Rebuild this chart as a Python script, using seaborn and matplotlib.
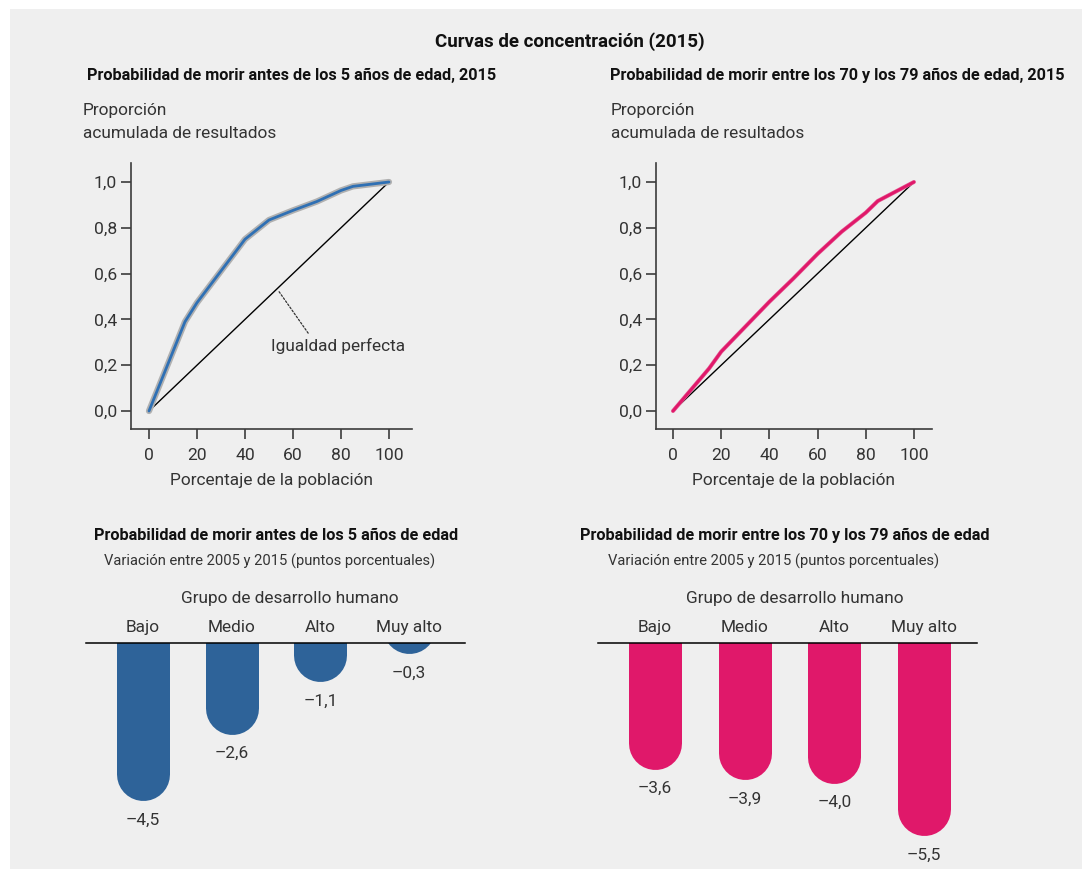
import numpy as np
import pandas as pd
import matplotlib
matplotlib.use("Agg")
import matplotlib.pyplot as plt
import matplotlib.patheffects as pe
from matplotlib.patches import Rectangle
import seaborn as sns

# ---------------- data ----------------
pct_pop = [0, 15, 20, 40, 50, 60, 70, 80, 85, 100]
conc_u5 = [0.0, 0.39, 0.473, 0.75, 0.834, 0.876, 0.915, 0.963, 0.981, 1.0]
conc_70 = [0.0, 0.186, 0.259, 0.477, 0.579, 0.686, 0.783, 0.866, 0.917, 1.0]
diag_x = [0, 100]
diag_y = [0.0, 1.0]

groups = ["Bajo", "Medio", "Alto", "Muy alto"]
chg_u5 = [-4.5, -2.6, -1.1, -0.3]
chg_70 = [-3.6, -3.9, -4.0, -5.5]

x_ticks = [0, 20, 40, 60, 80, 100]
y_ticks = [0.0, 0.2, 0.4, 0.6, 0.8, 1.0]

BLUE_LINE = "#2f70b4"
BLUE_BAR = "#2e6399"
PINK = "#e0186a"
TXT = "#333333"
BG = "#efefef"

sns.set_style("ticks")
plt.rcParams["font.family"] = ["Roboto", "DejaVu Sans"]
plt.rcParams["text.color"] = TXT
plt.rcParams["axes.labelcolor"] = TXT
plt.rcParams["xtick.color"] = "#3c3c3c"
plt.rcParams["ytick.color"] = "#3c3c3c"

W, H = 1086, 869
fig = plt.figure(figsize=(W / 100, H / 100), dpi=100)
fig.patch.set_facecolor("white")
fig.patches.append(Rectangle((10 / W, 0), 1072 / W, 860 / H, transform=fig.transFigure,
                             facecolor=BG, edgecolor="none", zorder=-10))


def fx(px):
    return px / W


def fy(py):
    return 1 - py / H


FS = 12.4      # regular text
FS_B = 11.7    # bold titles
FS_M = 13.5    # main title
FS_S = 10.6    # subtitles
FS_T = 12.6    # tick labels

# ---------------- top concentration curves ----------------
def curve_axes(rect, xlim, yvals, color, halo, halo_w, lw):
    ax = fig.add_axes(rect)
    ax.set_facecolor("none")
    sns.lineplot(x=diag_x, y=diag_y, ax=ax, color="black", lw=1.0)
    sns.lineplot(x=pct_pop, y=yvals, ax=ax, color=color, lw=lw,
                 path_effects=[pe.Stroke(linewidth=halo_w, foreground=halo), pe.Normal()])
    ax.set_xlim(*xlim)
    ax.set_ylim(-0.0786, 1.083)
    ax.set_xticks(x_ticks)
    ax.set_xticklabels([str(v) for v in x_ticks])
    ax.set_yticks(y_ticks)
    ax.set_yticklabels([f"{v:.1f}".replace(".", ",") for v in y_ticks])
    for s in ["top", "right"]:
        ax.spines[s].set_visible(False)
    for s in ["left", "bottom"]:
        ax.spines[s].set_color("#3c3c3c")
        ax.spines[s].set_linewidth(1.2)
    ax.tick_params(axis="both", direction="out", length=7, width=1.2, labelsize=FS_T,
                   labelcolor=TXT)
    ax.tick_params(axis="x", pad=7)
    ax.tick_params(axis="y", pad=3)
    ax.set_xlabel("Porcentaje de la población", fontsize=FS, labelpad=7)
    ax.set_ylabel("")
    return ax


ax1 = curve_axes([fx(131), fy(429), (412 - 131) / W, (429 - 163) / H], (-7.5, 109.6),
                 conc_u5, BLUE_LINE, "#b0b0b0", 4.5, 2.0)
ax2 = curve_axes([fx(656), fy(429), (932 - 656) / W, (429 - 163) / H], (-7.05, 107.5),
                 conc_70, PINK, "#e45a92", 2.9, 2.0)

ax1.annotate("", xy=(53.2, 0.536), xytext=(67, 0.33),
             arrowprops=dict(arrowstyle="-", linestyle=(0, (1.5, 1.5)), lw=0.9, color="#333333"))
ax1.text(51, 0.285, "Igualdad perfecta", fontsize=FS, ha="left", va="center", color=TXT)

# ---------------- bar charts (rounded-end bars) ----------------
PX_PER_UNIT = 35.0
BAR_PX = 53.0


def bar_axes(left_px, right_px, step_px, vals, color, first_px):
    top_px, bottom_px = 643, 850
    ax = fig.add_axes([fx(left_px), fy(bottom_px), (right_px - left_px) / W,
                       (bottom_px - top_px) / H])
    ax.set_facecolor("none")
    r_y = (BAR_PX / 2) / PX_PER_UNIT
    # each bar = thick stroke with a round cap; the stroke ends r_y above the value,
    # so the cap reaches exactly the value. The upper end lies above the baseline (clipped).
    rows = []
    for i, (g, v) in enumerate(zip(groups, vals)):
        rows.append({"grupo": g, "pos": i, "y": max(v + r_y, 0) + 2 * r_y})
        rows.append({"grupo": g, "pos": i, "y": v + r_y})
    df = pd.DataFrame(rows)
    sns.lineplot(data=df, x="pos", y="y", units="grupo", estimator=None, sort=False,
                 ax=ax, color=color, lw=BAR_PX * 0.72, solid_capstyle="round", legend=False)
    lo = -(first_px - left_px) / step_px
    hi = (right_px - first_px) / step_px
    ax.set_xlim(lo, hi)
    ax.set_ylim(-(bottom_px - top_px) / PX_PER_UNIT, 0)
    for s in ["left", "right", "bottom"]:
        ax.spines[s].set_visible(False)
    ax.spines["top"].set_color("black")
    ax.spines["top"].set_linewidth(1.1)
    ax.spines["top"].set_zorder(5)
    ax.yaxis.set_visible(False)
    ax.xaxis.tick_top()
    ax.set_xticks(range(len(groups)))
    ax.set_xticklabels(groups)
    ax.tick_params(axis="x", length=0, pad=6, labelsize=FS, labelcolor=TXT)
    ax.set_xlabel("")
    ax.set_ylabel("")
    for i, v in enumerate(vals):
        lab = ("–" if v < 0 else "") + f"{abs(v):.1f}".replace(".", ",")
        ax.annotate(lab, xy=(i, v), xytext=(0, -14), textcoords="offset points",
                    ha="center", va="center", fontsize=FS, color=TXT)
    return ax


ax3 = bar_axes(86, 465, 88.7, chg_u5, BLUE_BAR, 143)
ax4 = bar_axes(598, 977, 89.7, chg_70, PINK, 655)

# ---------------- texts ----------------
fig.text(fx(570), fy(42), "Curvas de concentración (2015)", fontsize=FS_M, fontweight="bold",
         ha="center", va="center", color="#111111")
fig.text(fx(87), fy(75), "Probabilidad de morir antes de los 5 años de edad, 2015", fontsize=FS_B,
         fontweight="bold", ha="left", va="center", color="#111111")
fig.text(fx(610), fy(75), "Probabilidad de morir entre los 70 y los 79 años de edad, 2015",
         fontsize=FS_B, fontweight="bold", ha="left", va="center", color="#111111")
for xx in (83, 611):
    fig.text(fx(xx), fy(110), "Proporción", fontsize=FS, ha="left", va="center")
    fig.text(fx(xx), fy(134), "acumulada de resultados", fontsize=FS, ha="left", va="center")

fig.text(fx(276), fy(535), "Probabilidad de morir antes de los 5 años de edad", fontsize=FS_B,
         fontweight="bold", ha="center", va="center", color="#111111")
fig.text(fx(785), fy(535), "Probabilidad de morir entre los 70 y los 79 años de edad",
         fontsize=FS_B, fontweight="bold", ha="center", va="center", color="#111111")
for xx in (270, 774):
    fig.text(fx(xx), fy(561), "Variación entre 2005 y 2015 (puntos porcentuales)", fontsize=FS_S,
             ha="center", va="center")
for xx in (290, 794.5):
    fig.text(fx(xx), fy(598), "Grupo de desarrollo humano", fontsize=FS, ha="center", va="center")

fig.savefig("out.png", dpi=100)
